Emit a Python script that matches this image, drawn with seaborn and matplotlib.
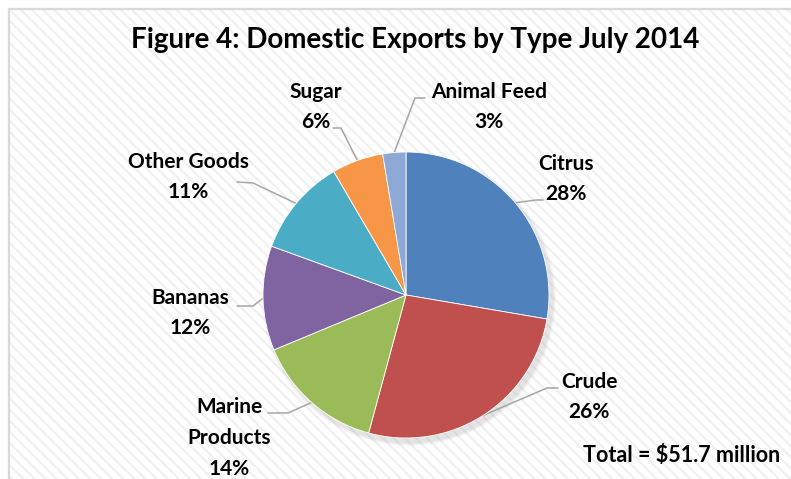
import numpy as np
import matplotlib
matplotlib.use("Agg")
import matplotlib.pyplot as plt
import matplotlib.patches as mpatches
import seaborn as sns

# data (US$ million, total = 51.7)
categories = ["Citrus", "Crude", "Marine\nProducts", "Bananas", "Other Goods", "Sugar", "Animal Feed"]
values = [14.3, 13.7, 7.5, 6.1, 5.7, 3.0, 1.35]
pct_labels = ["28%", "26%", "14%", "12%", "11%", "6%", "3%"]
colors = ["#4F81BD", "#C0504D", "#9BBB59", "#8064A2", "#4BACC6", "#F79646", "#8FA9D6"]
title = "Figure 4: Domestic Exports by Type July 2014"
total_note = "Total = $51.7 million"

sns.set_style("white")
plt.rcParams['font.family'] = ['Lato', 'DejaVu Sans']
plt.rcParams['hatch.linewidth'] = 1.6

W, H = 791, 479
fig = plt.figure(figsize=(W / 100, H / 100), dpi=100)
fig.patch.set_facecolor("white")

# axes in pixel units (y up)
ax = fig.add_axes([0, 0, 1, 1])
ax.set_xlim(0, W)
ax.set_ylim(0, H)
ax.axis("off")

# striped chart background + border
bg = mpatches.Rectangle((9, -20), W + 20, H - 9 + 20, facecolor="white",
                        edgecolor="#F0F0F0", linewidth=0, hatch="\\\\\\", zorder=0)
ax.add_patch(bg)
ax.add_patch(mpatches.Rectangle((9, -20), W + 20, H - 9 + 20, facecolor="none",
                                edgecolor="#D9D9D9", linewidth=1.6, zorder=1))

cx, cy, r = 406, H - 295, 143

# soft shadow under the pie
for k, a in zip([10, 7, 4], [0.05, 0.07, 0.09]):
    ax.add_patch(mpatches.Circle((cx + 3, cy - 4), r + k * 0.4, facecolor="#808080",
                                 edgecolor="none", alpha=a, zorder=2))

wedges, _ = ax.pie(values, colors=colors, startangle=90, counterclock=False,
                   center=(cx, cy), radius=r, frame=True,
                   wedgeprops=dict(linewidth=0.6, edgecolor="white"))
for w in wedges:
    w.set_zorder(3)
ax.set_xlim(0, W)
ax.set_ylim(0, H)
ax.axis("off")

# label block centres and leader elbows (pixel layout, y from top)
label_pos = [(566, 179), (589, 397), (229, 438), (190, 313), (188, 177), (316, 107), (489, 107)]
elbows = [[(536, 200), (543, 200)],
          [(547, 388), (558, 388)],
          [(288, 413), (268, 413)],
          [(253, 306), (237, 306)],
          [(253, 183), (237, 182)],
          [(341, 128), (333, 128)],
          [(415, 98), (425, 98)]]

for w, lab, pct, pos, elb in zip(wedges, categories, pct_labels, label_pos, elbows):
    mid = np.deg2rad((w.theta1 + w.theta2) / 2)
    x0, y0 = cx + r * np.cos(mid), cy + r * np.sin(mid)
    xs = [x0] + [p[0] for p in elb]
    ys = [y0] + [H - p[1] for p in elb]
    ax.plot(xs, ys, color="#A6A6A6", linewidth=1.1, zorder=2.5)
    ax.text(pos[0], H - pos[1], f"{lab}\n{pct}", ha="center", va="center",
            fontsize=15, fontweight="bold", color="black", linespacing=1.68, zorder=4)

ax.text(415, H - 40, title, ha="center", va="center", fontsize=20,
        fontweight="bold", color="black")
ax.text(780, H - 455, total_note, ha="right", va="center", fontsize=15.5,
        fontweight="bold", color="black")

fig.savefig("out.png", dpi=100)
